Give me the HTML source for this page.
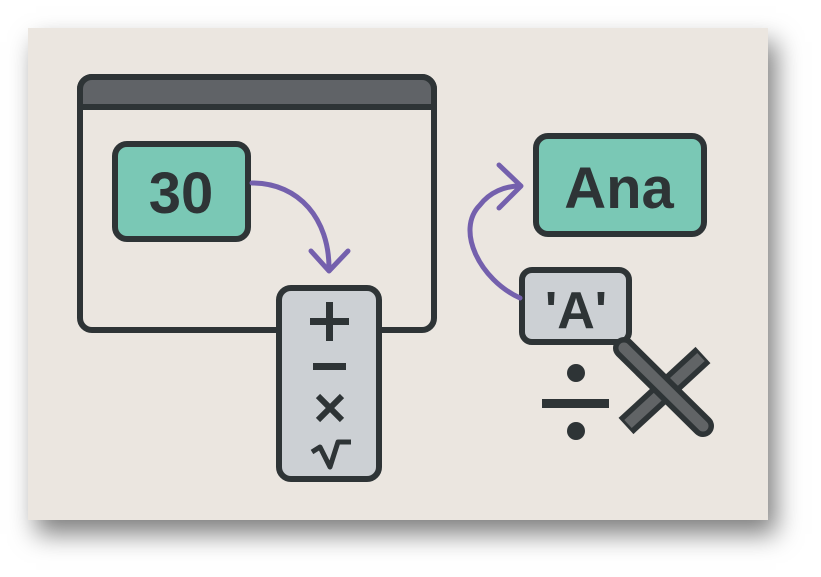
<!DOCTYPE html>
<html><head><style>
html,body{margin:0;padding:0;background:#fff;width:821px;height:577px;overflow:hidden}
.card{position:absolute;left:28px;top:28px;width:740px;height:492px;background:#ebe6e0;box-shadow:8px 14px 24px rgba(0,0,0,0.5)}
svg{position:absolute;left:0;top:0}
text{font-family:"Liberation Sans",sans-serif;fill:#2e3436;font-weight:bold}
</style></head><body>
<div class="card"></div>
<svg width="821" height="577" viewBox="0 0 821 577">
<g stroke="#2e3436" stroke-width="6" stroke-linejoin="round">
<rect x="80" y="77" width="354" height="253" rx="12" fill="#ebe6e0"/>
<path d="M80 107 V89 a12 12 0 0 1 12 -12 H422 a12 12 0 0 1 12 12 V107 Z" fill="#606367"/>
<rect x="115" y="144" width="133" height="95" rx="12" fill="#7ac8b5"/>
<rect x="279" y="288" width="100" height="191" rx="12" fill="#ccd0d4"/>
<rect x="536" y="136" width="168" height="98" rx="12" fill="#7ac8b5"/>
<rect x="522" y="270" width="107" height="72" rx="10" fill="#ccd0d4"/>
</g>
<text x="181" y="213" font-size="58" text-anchor="middle">30</text>
<text x="619" y="208" font-size="58" text-anchor="middle">Ana</text>
<text x="576" y="328" font-size="52" text-anchor="middle">'A'</text>
<g fill="none" stroke="#7460ad" stroke-width="5" stroke-linecap="round" stroke-linejoin="round">
<path d="M252 183 C300 183 329 220 329 268"/>
<path d="M311 251 L329 271 L348 251"/>
<path d="M520 298 C480 280 455 230 480 205 C490 192 505 186 520 186"/>
<path d="M499 165 L521 186 L499 208"/>
</g>
<g fill="#2e3436">
<rect x="310" y="318" width="39" height="7"/>
<rect x="326" y="302" width="7" height="39"/>
<rect x="313" y="363" width="33" height="7"/>
</g>
<g stroke="#2e3436" stroke-width="6" fill="none">
<path d="M318 396 L342 420 M342 396 L318 420"/>
<path d="M312 452 L320 447 L330 467 L338 442 H351" stroke-width="5" stroke-linejoin="round"/>
</g>
<circle cx="576" cy="373" r="9" fill="#2e3436"/>
<rect x="542" y="399" width="67" height="9" fill="#2e3436"/>
<circle cx="576" cy="431" r="9" fill="#2e3436"/>
<g stroke-linecap="round">
<line x1="626" y1="426" x2="703" y2="355" stroke="#2e3436" stroke-width="22" stroke-linecap="butt"/>
<line x1="628" y1="424" x2="701" y2="357" stroke="#616466" stroke-width="11" stroke-linecap="butt"/>
<line x1="624" y1="348" x2="703" y2="426" stroke="#2e3436" stroke-width="22"/>
<line x1="624" y1="348" x2="703" y2="426" stroke="#616466" stroke-width="11"/>
</g>
</svg>
</body></html>
